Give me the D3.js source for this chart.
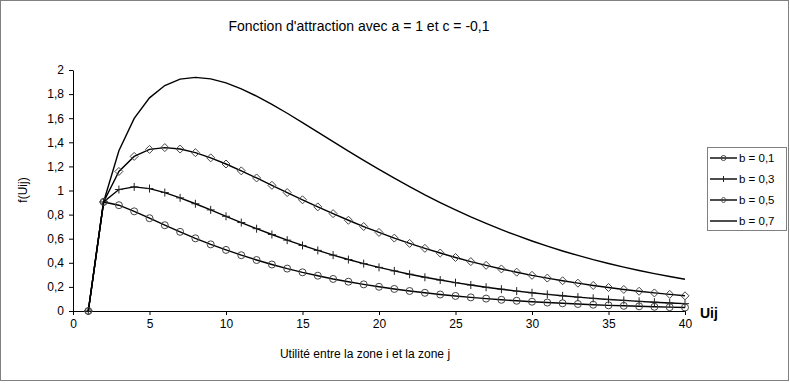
<!DOCTYPE html>
<html>
<head>
<meta charset="utf-8">
<script src="https://cdn.jsdelivr.net/npm/d3@7"></script>
<style>
  body { margin: 0; background: #fff; }
  svg { display: block; font-family: "Liberation Sans", Arial, sans-serif; }
</style>
</head>
<body>
<script>
// data
const uij = d3.range(1, 41);
const b01 = [0, 0.905, 0.878, 0.827, 0.770, 0.712, 0.657, 0.603, 0.553, 0.507, 0.463,
  0.423, 0.386, 0.352, 0.321, 0.293, 0.266, 0.243, 0.221, 0.201, 0.183,
  0.166, 0.151, 0.137, 0.125, 0.113, 0.103, 0.093, 0.085, 0.077, 0.070,
  0.064, 0.058, 0.052, 0.047, 0.043, 0.039, 0.035, 0.032, 0.029];
const b03 = [0, 0.905, 1.008, 1.030, 1.016, 0.983, 0.939, 0.890, 0.839, 0.786, 0.734,
  0.683, 0.635, 0.588, 0.544, 0.503, 0.464, 0.427, 0.393, 0.362, 0.333,
  0.305, 0.280, 0.257, 0.235, 0.216, 0.197, 0.181, 0.165, 0.151, 0.138,
  0.126, 0.115, 0.105, 0.096, 0.088, 0.080, 0.073, 0.067, 0.061];
const b05 = [0, 0.905, 1.158, 1.283, 1.341, 1.356, 1.344, 1.314, 1.271, 1.220, 1.163,
  1.104, 1.043, 0.983, 0.923, 0.864, 0.808, 0.753, 0.701, 0.652, 0.605,
  0.561, 0.520, 0.481, 0.444, 0.410, 0.379, 0.349, 0.322, 0.296, 0.273,
  0.251, 0.231, 0.212, 0.195, 0.179, 0.164, 0.150, 0.138, 0.126];
const b07 = [0, 0.905, 1.330, 1.598, 1.769, 1.871, 1.924, 1.939, 1.926, 1.893, 1.844,
  1.783, 1.715, 1.641, 1.564, 1.485, 1.406, 1.327, 1.250, 1.175, 1.102,
  1.032, 0.964, 0.900, 0.839, 0.781, 0.727, 0.675, 0.627, 0.581, 0.538,
  0.498, 0.461, 0.426, 0.394, 0.364, 0.336, 0.310, 0.286, 0.263];
const seriesNames = ['b = 0,1', 'b = 0,3', 'b = 0,5', 'b = 0,7'];
const xTicks = [0, 5, 10, 15, 20, 25, 30, 35, 40];
const yTicks = [0, 0.2, 0.4, 0.6, 0.8, 1, 1.2, 1.4, 1.6, 1.8, 2];

// setting canvas
const width = 790;
const height = 383;
const margin = { top: 70, left: 73, bottom: 72, right: 105 };

const svg = d3.select('body').append('svg').attr('width', width).attr('height', height);

// chart border
svg.append('rect')
  .attr('x', 0.5).attr('y', 0.5)
  .attr('width', 788).attr('height', 380)
  .attr('fill', '#fff')
  .attr('stroke', '#808080');

const x = d3.scaleLinear().domain([0, 40]).range([margin.left, width - margin.right]);
const y = d3.scaleLinear().domain([0, 2]).range([height - margin.bottom, margin.top]);

const fmt = (d) => String(d).replace('.', ',');

// axes
svg.append('g')
  .attr('transform', `translate(0, ${y(0)})`)
  .call(d3.axisBottom(x).tickValues(xTicks).tickSize(4).tickSizeOuter(0).tickFormat(fmt))
  .call((g) => g.selectAll('text').attr('font-size', 12).attr('fill', '#000').attr('dy', '0.85em'));

svg.append('g')
  .attr('transform', `translate(${x(0)}, 0)`)
  .call(d3.axisLeft(y).tickValues(yTicks).tickSize(4).tickSizeOuter(0).tickFormat(fmt))
  .call((g) => g.selectAll('text').attr('font-size', 12).attr('fill', '#000').attr('dx', '-2'));

svg.selectAll('.domain, .tick line').attr('stroke', '#000');

// series
const series = [b01, b03, b05, b07].map((vals, i) => ({
  name: seriesNames[i],
  points: uij.map((u, j) => ({ u: u, v: vals[j] })),
  marker: ['circle', 'plus', 'diamond', 'none'][i],
}));

const line = d3.line().x((d) => x(d.u)).y((d) => y(d.v));

const drawMarker = (g, type, cx, cy) => {
  if (type === 'circle') {
    g.append('circle').attr('cx', cx).attr('cy', cy).attr('r', 3.5)
      .attr('fill', 'none').attr('stroke', '#444').attr('stroke-width', 1);
  } else if (type === 'plus') {
    g.append('path').attr('d', `M${cx - 4},${cy}H${cx + 4}M${cx},${cy - 4}V${cy + 4}`)
      .attr('stroke', '#222').attr('stroke-width', 1);
  } else if (type === 'diamond') {
    g.append('path').attr('d', `M${cx},${cy - 4}L${cx + 4},${cy}L${cx},${cy + 4}L${cx - 4},${cy}Z`)
      .attr('fill', 'none').attr('stroke', '#444').attr('stroke-width', 1);
  }
};

const plot = svg.append('g');
series.slice().reverse().forEach((s) => {
  plot.append('path')
    .datum(s.points)
    .attr('fill', 'none')
    .attr('stroke', '#000')
    .attr('stroke-width', 1.4)
    .attr('d', line);
  const mg = plot.append('g');
  s.points.forEach((p) => drawMarker(mg, s.marker, x(p.u), y(p.v)));
});

// title and axis labels
svg.append('text')
  .attr('x', 359).attr('y', 31)
  .attr('text-anchor', 'middle')
  .attr('font-size', 14)
  .text("Fonction d'attraction avec a = 1 et c = -0,1");

svg.append('text')
  .attr('x', 365).attr('y', 358)
  .attr('text-anchor', 'middle')
  .attr('font-size', 12)
  .text('Utilité entre la zone i et la zone j');

svg.append('text')
  .attr('transform', `translate(27, 190) rotate(-90)`)
  .attr('text-anchor', 'middle')
  .attr('font-size', 12)
  .text('f(Uij)');

svg.append('text')
  .attr('x', 700).attr('y', 318)
  .attr('font-size', 14)
  .attr('font-weight', 'bold')
  .text('Uij');

// legend
const legend = svg.append('g');
legend.append('rect')
  .attr('x', 707.5).attr('y', 147.5)
  .attr('width', 79).attr('height', 83)
  .attr('fill', '#fff')
  .attr('stroke', '#808080');

series.forEach((s, i) => {
  const ly = 158 + i * 21;
  legend.append('line')
    .attr('x1', 710).attr('x2', 737)
    .attr('y1', ly).attr('y2', ly)
    .attr('stroke', '#000').attr('stroke-width', 1.4);
  const mg = legend.append('g');
  if (s.marker === 'circle') {
    mg.append('circle').attr('cx', 723.5).attr('cy', ly).attr('r', 2.5)
      .attr('fill', 'none').attr('stroke', '#444');
  } else if (s.marker === 'plus') {
    mg.append('path').attr('d', `M723.5,${ly - 3}V${ly + 3}`).attr('stroke', '#222');
  } else if (s.marker === 'diamond') {
    mg.append('path').attr('d', `M723.5,${ly - 3}L726.5,${ly}L723.5,${ly + 3}L720.5,${ly}Z`)
      .attr('fill', 'none').attr('stroke', '#444');
  }
  legend.append('text')
    .attr('x', 739).attr('y', ly)
    .attr('dy', '0.35em')
    .attr('font-size', 11.5)
    .text(s.name);
});
</script>
</body>
</html>
